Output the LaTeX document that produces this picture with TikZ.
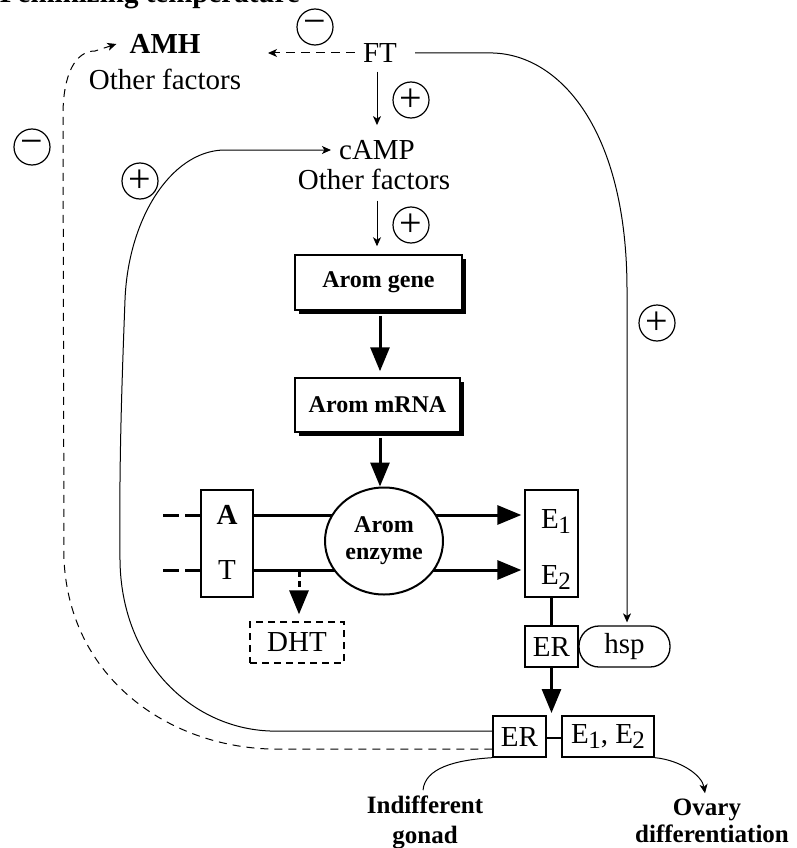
\documentclass[tikz,border=0pt]{standalone}
\usepackage{fontspec}
\setmainfont{Liberation Serif}
\usetikzlibrary{arrows.meta,shapes.geometric,shadows,backgrounds}
\newcommand\mysub[1]{\kern-0.5pt\raisebox{-5pt}{\fontsize{25}{25}\selectfont#1}}
\tikzset{
  thinl/.style={line width=1pt},
  small/.style={line width=1pt,-{Stealth[length=9pt,width=8pt,inset=2.5pt]}},
  big/.style={line width=3pt,-{Triangle[length=24pt,width=19pt]}},
  lab/.style={inner sep=0pt,font=\fontsize{29}{30}\selectfont},
  labb/.style={inner sep=0pt,font=\fontsize{29}{30}\selectfont\bfseries},
  botlab/.style={inner sep=0pt,font=\fontsize{25}{30}\selectfont\bfseries},
  box/.style={draw,line width=1.3pt,fill=white,inner sep=0pt,font=\fontsize{29}{30}\selectfont},
  shbox/.style={draw,line width=1.5pt,fill=white,inner sep=0pt,
    font=\fontsize{24}{26}\selectfont\bfseries,
    drop shadow={shadow xshift=4pt,shadow yshift=-4pt,fill=black,opacity=1}},
  sign/.style={circle,draw,line width=1.2pt,minimum size=36pt,inner sep=0pt,
    font=\fontsize{40}{40}\selectfont},
  fdash/.style={dash pattern=on 9pt off 6pt},
  tdash/.style={line width=3pt,dash pattern=on 16pt off 6pt}
}
\begin{document}
\begin{tikzpicture}[x=1pt,y=-1pt]
\useasboundingbox (0,0) rectangle (796,848);

% partially visible title
\node[labb,anchor=base east] (title) at (300,3) {Feminizing temperature};

% top texts
\node[labb] (amh) at (165,44) {AMH};
\node[lab] (amhof) at (165,79) {Other factors};
\node[lab] (ft) at (380,53) {FT};
\node[lab] (camp) at (377,150) {cAMP};
\node[lab] (campof) at (374,179) {Other factors};

% signs
\node[sign] (m1) at (315,27) {−};
\node[sign] (p1) at (411,100) {+};
\node[sign] (p2) at (411,225) {+};
\node[sign] (m2) at (32,147) {−};
\node[sign] (p3) at (140,181) {+};
\node[sign] (p4) at (657,323) {+};

% gene boxes
\node[shbox,minimum width=167pt,minimum height=55pt] (gene) at (378.5,282.5) {Arom gene};
\node[shbox,minimum width=165pt,minimum height=54pt] (mrna) at (377.5,405) {Arom mRNA};

% enzyme
\node[ellipse,draw,line width=2pt,fill=white,minimum width=118pt,minimum height=107pt,
  inner sep=0pt,align=center,font=\fontsize{24}{27}\selectfont\bfseries] (enz) at (384,541) {Arom\\enzyme};

% A/T and E boxes
\node[box,minimum width=52pt,minimum height=107pt] (at) at (227,543.5) {};
\node[labb] (a) at (227,515) {A};
\node[lab] (t) at (227,570) {T};
\node[box,minimum width=53pt,minimum height=107pt] (ebox) at (551.5,543.5) {};
\node[lab] (e1) at (556,521) {E\mysub{1}};
\node[lab] (e2) at (556,577) {E\mysub{2}};

\node[box,dashed,dash pattern=on 7pt off 5pt,minimum width=94pt,minimum height=41pt] (dht) at (297,642.5) {DHT};
\node[box,minimum width=53pt,minimum height=41pt] (er1) at (551.5,646.5) {ER};
\node[box,rounded corners=20pt,minimum width=91pt,minimum height=41pt] (hsp) at (624.5,646.5) {hsp};
\node[box,minimum width=53pt,minimum height=41pt] (er2) at (519.5,736.5) {ER};
\node[box,minimum width=92pt,minimum height=41pt] (e12) at (608,736.5) {E\mysub{1}, E\mysub{2}};

% bottom labels
\node[botlab,anchor=base] (indiff) at (425,813) {Indifferent};
\node[botlab,anchor=base] (gonad) at (425,843) {gonad};
\node[botlab,anchor=base] (ovary) at (707,815) {Ovary};
\node[botlab,anchor=base] (diff) at (712,842) {differentiation};

% free ends
\coordinate (amhtip) at (268,53);
\coordinate (ain) at (163,515);
\coordinate (tin) at (163,570);
\coordinate (tdht) at (299,571);
\coordinate (erj) at (551.5,713);

% top connectors
\draw[small,fdash] ([xshift=-8pt]ft.west) -- (amhtip);
\draw[small] ([xshift=-3pt,yshift=-9pt]ft.south) -- ([yshift=15pt]camp.north);
\draw[small] ([xshift=3pt,yshift=-11pt]campof.south) -- ([xshift=-1.5pt,yshift=8pt]gene.north);
\draw[small] ([xshift=18pt]ft.east) -- (493,53) .. controls (560,55) and (627,130) .. (627,290)
  -- ([xshift=2.5pt,yshift=3pt]hsp.north);

% feedback loops
\draw[small] ([yshift=5.5pt]er2.west) -- (270,731) .. controls (190,728) and (121,660) .. (120,560)
  .. controls (119,460) and (122,380) .. (125,300) .. controls (128,220) and (170,152) .. (223,150)
  -- ([xshift=-8pt]camp.west);
\draw[small,dash pattern=on 8pt off 6pt] ([yshift=-12.5pt]er2.west) -- (270,749)
  .. controls (170,746) and (70,680) .. (64,560) -- (63,115)
  .. controls (63,75) and (75,51) .. (95,51) -- ([xshift=-13pt]amh.west);

% main pathway
\draw[big] ([xshift=1.5pt,yshift=-5pt]gene.south) -- ([xshift=2.5pt,yshift=6pt]mrna.north);
\draw[big] ([xshift=2.5pt,yshift=-5pt]mrna.south) -- ([xshift=-4pt]enz.north);
\begin{pgfonlayer}{background}
\draw[big] ([yshift=28.5pt]at.east) -- ([yshift=28.5pt,xshift=-3pt]ebox.west);
\draw[big] ([yshift=-26.5pt]at.east) -- ([yshift=-26.5pt,xshift=-3pt]ebox.west);
\end{pgfonlayer}
\draw[tdash] (ain) -- ([yshift=28.5pt]at.west);
\draw[tdash] (tin) -- ([yshift=-26.5pt]at.west);
\draw[big,dash pattern=on 6pt off 4pt] (tdht) -- ([xshift=2pt,yshift=7pt]dht.north);
\draw[line width=3pt] (ebox.south) -- (er1.north);
\draw[big] (er1.south) -- (erj);
\draw[line width=2.5pt] ([yshift=-1.5pt]er2.east) -- ([yshift=-1.5pt]e12.west);

% outcomes
\draw[thinl] (er2.south west) .. controls (455,760) and (425,768) .. ([xshift=-2pt,yshift=5pt]indiff.north);
\draw[small] (e12.south east) .. controls (680,760) and (702,775) .. ([xshift=-2pt,yshift=5pt]ovary.north);
\end{tikzpicture}
\end{document}
